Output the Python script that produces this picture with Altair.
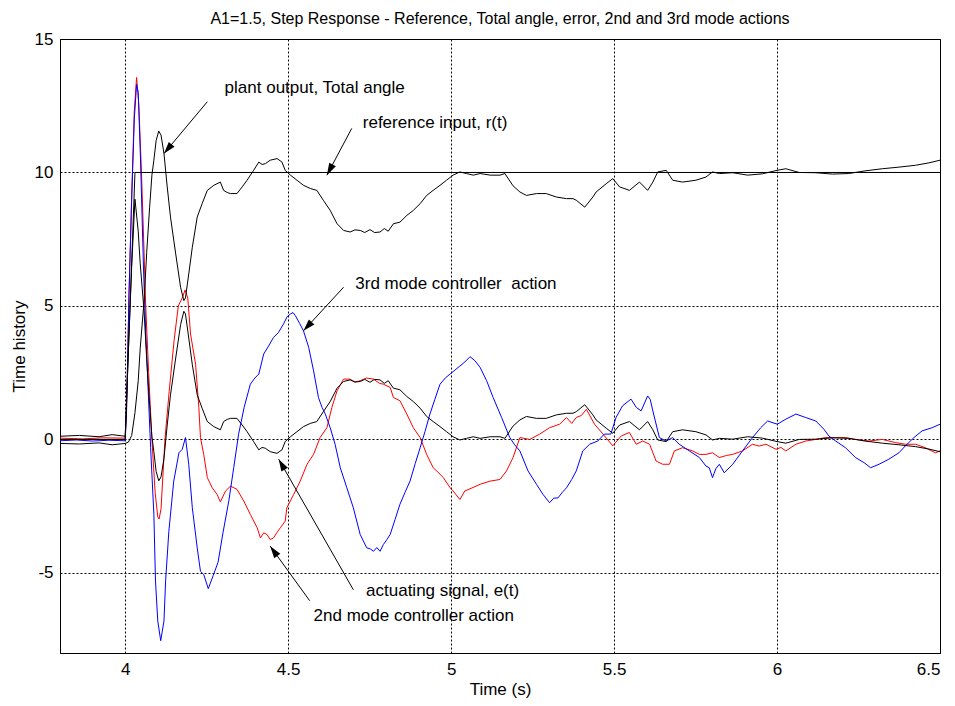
import math
import altair as alt
import pandas as pd

# ---------------- data ----------------
T_PLANT = [3.80, 3.86, 3.92, 3.96, 4.00, 4.01, 4.02, 4.03, 4.04, 4.046, 4.058, 4.066, 4.075, 4.082,
           4.088, 4.095, 4.103, 4.11, 4.119, 4.129, 4.139, 4.155, 4.17, 4.18, 4.185, 4.195, 4.206,
           4.221, 4.236, 4.252, 4.272, 4.292, 4.302, 4.313, 4.323, 4.343, 4.359, 4.374, 4.394, 4.41,
           4.42, 4.43, 4.445, 4.466, 4.481, 4.491, 4.507, 4.527, 4.547, 4.568, 4.588, 4.608, 4.629,
           4.65, 4.67, 4.69, 4.705, 4.721, 4.735, 4.751, 4.765, 4.782, 4.795, 4.807, 4.823, 4.843,
           4.864, 4.884, 4.905, 4.925, 4.945, 4.966, 4.986, 5.006, 5.027, 5.047, 5.068, 5.089, 5.12,
           5.15, 5.165, 5.19, 5.211, 5.231, 5.262, 5.292, 5.323, 5.354, 5.374, 5.384, 5.41, 5.435,
           5.445, 5.476, 5.496, 5.517, 5.547, 5.578, 5.603, 5.619, 5.634, 5.66, 5.68, 5.71, 5.751,
           5.782, 5.802, 5.823, 5.864, 5.91, 5.955, 6.00, 6.027, 6.068, 6.119, 6.17, 6.22, 6.27,
           6.323, 6.374, 6.425, 6.466, 6.50]
PLANT = [-0.15, -0.17, -0.13, -0.20, -0.15, -0.10, 0.15, 1.0, 2.2, 3.4, 5.2, 7.0, 8.7, 9.9,
         10.46, 11.2, 11.55, 11.4, 10.71, 9.46, 8.33, 6.95, 5.7, 5.2, 5.3, 6.2, 7.2,
         8.33, 8.83, 9.33, 9.52, 9.64, 9.33, 9.25, 9.21, 9.21, 9.46, 9.71, 10.08, 10.39,
         10.30, 10.33, 10.46, 10.52, 10.39, 10.08, 9.90, 9.71, 9.52, 9.40, 9.33, 8.96, 8.58,
         8.08, 7.83, 7.77, 7.85, 7.83, 7.75, 7.86, 7.75, 7.77, 7.90, 7.80, 8.08, 8.14,
         8.39, 8.58, 8.83, 9.14, 9.33, 9.52, 9.71, 9.90, 10.02, 9.96, 9.90, 9.96, 9.90,
         9.90, 9.96, 9.50, 9.27, 9.14, 9.21, 9.21, 9.08, 9.02, 9.02, 8.96, 8.70, 9.08,
         9.27, 9.58, 9.77, 9.46, 9.33, 9.64, 9.33, 9.64, 10.02, 10.08, 9.71, 9.64, 9.71,
         9.83, 10.02, 9.96, 9.99, 9.90, 9.95, 10.08, 10.14, 10.00, 9.99, 9.94, 9.96, 10.06,
         10.14, 10.20, 10.27, 10.36, 10.46]

T_ERR = T_PLANT
ERR = [0.12, 0.15, 0.10, 0.18, 0.12, 3.4, 6.5, 9.0, 7.8, 6.6, 4.8, 3.0, 1.3, 0.1,
       -0.46, -1.2, -1.55, -1.4, -0.71, 0.54, 1.67, 3.05, 4.3, 4.8, 4.7, 3.8, 2.8,
       1.67, 1.17, 0.67, 0.48, 0.36, 0.67, 0.75, 0.79, 0.79, 0.54, 0.29, -0.08, -0.39,
       -0.30, -0.33, -0.46, -0.52, -0.39, -0.08, 0.10, 0.29, 0.48, 0.60, 0.67, 1.04, 1.42,
       1.92, 2.17, 2.23, 2.15, 2.17, 2.25, 2.14, 2.25, 2.23, 2.10, 2.20, 1.92, 1.86,
       1.61, 1.42, 1.17, 0.86, 0.67, 0.48, 0.29, 0.10, -0.02, 0.04, 0.10, 0.04, 0.10,
       0.10, 0.04, 0.50, 0.73, 0.86, 0.79, 0.79, 0.92, 0.98, 0.98, 1.04, 1.30, 0.92,
       0.73, 0.42, 0.23, 0.54, 0.67, 0.36, 0.67, 0.36, -0.02, -0.08, 0.29, 0.36, 0.29,
       0.17, -0.02, 0.04, 0.01, 0.10, 0.05, -0.08, -0.14, 0.00, 0.01, 0.06, 0.04, -0.06,
       -0.14, -0.20, -0.27, -0.36, -0.46]

T_REF = [3.80, 4.00, 4.03, 6.50]
REF = [0, 0, 10, 10]

T_MODE2 = [3.80, 3.87, 3.93, 4.00, 4.004, 4.012, 4.02, 4.028, 4.035, 4.042, 4.05, 4.058, 4.063,
           4.072, 4.082, 4.092, 4.10, 4.104, 4.11, 4.122, 4.135, 4.15, 4.163, 4.175, 4.184, 4.192,
           4.2005, 4.216, 4.226, 4.231, 4.241, 4.252, 4.267, 4.282, 4.292, 4.308, 4.323, 4.343,
           4.364, 4.384, 4.405, 4.415, 4.425, 4.435, 4.445, 4.455, 4.465, 4.476, 4.491, 4.496,
           4.517, 4.537, 4.558, 4.578, 4.598, 4.619, 4.634, 4.65, 4.67, 4.69, 4.705, 4.721, 4.74,
           4.762, 4.78, 4.792, 4.813, 4.823, 4.843, 4.864, 4.884, 4.905, 4.925, 4.945, 4.966,
           4.976, 4.997, 5.006, 5.027, 5.042, 5.058, 5.089, 5.12, 5.15, 5.17, 5.19, 5.211, 5.241,
           5.272, 5.302, 5.333, 5.354, 5.37, 5.384, 5.40, 5.415, 5.44, 5.466, 5.496, 5.522,
           5.547, 5.568, 5.588, 5.609, 5.629, 5.649, 5.67, 5.685, 5.71, 5.741, 5.762, 5.782,
           5.802, 5.823, 5.845, 5.864, 5.894, 5.925, 5.945, 5.966, 5.997, 6.012, 6.027, 6.058,
           6.088, 6.119, 6.149, 6.18, 6.21, 6.241, 6.282, 6.323, 6.364, 6.394, 6.425, 6.455,
           6.486, 6.50]
MODE2 = [0.05, 0.02, 0.06, 0.05, 1.0, 5.5, 9.2, 12.3, 13.56, 12.5, 10.0, 7.0, 5.0,
         2.5, 0.0, -2.0, -2.9, -2.98, -2.6, 0.0, 1.8, 3.7, 5.0, 5.3, 5.6, 5.3,
         3.95, 2.82, 1.19, 0.07, -0.56, -1.43, -1.81, -2.06, -2.34, -1.93, -1.75, -1.87,
         -2.31, -2.81, -3.31, -3.69, -3.5, -3.56, -3.75, -3.69, -3.5, -3.31, -3.06, -2.56,
         -2.06, -1.56, -0.93, -0.56, 0.07, 0.44, 1.19, 1.82, 2.26, 2.26, 2.15, 2.2, 2.3,
         2.26, 2.1, 2.07, 1.95, 1.57, 1.45, 0.95, 0.44, 0.07, -0.56, -1.06, -1.3,
         -1.43, -1.81, -1.93, -2.25, -1.93, -1.85, -1.68, -1.56, -1.50, -1.18, -0.68, 0.07, 0.0,
         0.2, 0.44, 0.57, 0.82, 0.6, 0.82, 0.9, 1.13, 0.57, 0.2, -0.24, 0.13,
         0.26, -0.18, -0.06, -0.18, -0.81, -0.93, -0.93, -0.43, -0.31, -0.43, -0.56, -0.56,
         -0.5, -0.68, -0.6, -0.56, -0.43, -0.18, -0.25, -0.18, -0.37, -0.3, -0.43, -0.18,
         -0.06, 0.0, 0.07, 0.07, 0.07, 0.0, -0.06, 0.0, -0.12, -0.18, -0.18, -0.31,
         -0.5, -0.43]

T_MODE3 = [3.80, 3.85, 3.90, 3.95, 4.00, 4.004, 4.012, 4.02, 4.028, 4.035, 4.04, 4.047, 4.056,
           4.063, 4.07, 4.078, 4.088, 4.093, 4.10, 4.109, 4.119, 4.124, 4.134, 4.149, 4.165,
           4.175, 4.185, 4.195, 4.206, 4.221, 4.231, 4.241, 4.255, 4.27, 4.285, 4.30, 4.318,
           4.333, 4.348, 4.365, 4.384, 4.398, 4.41, 4.425, 4.44, 4.455, 4.47, 4.486, 4.497,
           4.507, 4.515, 4.522, 4.535, 4.547, 4.563, 4.578, 4.593, 4.604, 4.614, 4.629, 4.644,
           4.66, 4.68, 4.70, 4.721, 4.741, 4.752, 4.762, 4.772, 4.782, 4.792, 4.803, 4.813,
           4.828, 4.843, 4.858, 4.874, 4.89, 4.905, 4.92, 4.935, 4.95, 4.966, 4.982, 4.997,
           5.012, 5.027, 5.042, 5.058, 5.073, 5.089, 5.109, 5.129, 5.155, 5.18, 5.195, 5.211,
           5.236, 5.262, 5.282, 5.302, 5.315, 5.328, 5.34, 5.354, 5.37, 5.384, 5.404, 5.425,
           5.45, 5.47, 5.49, 5.506, 5.526, 5.552, 5.568, 5.583, 5.603, 5.611, 5.619, 5.639,
           5.66, 5.68, 5.70, 5.731, 5.762, 5.782, 5.792, 5.802, 5.812, 5.823, 5.838, 5.864,
           5.894, 5.925, 5.95, 5.971, 6.001, 6.027, 6.058, 6.088, 6.119, 6.144, 6.159, 6.18,
           6.21, 6.241, 6.267, 6.287, 6.313, 6.343, 6.374, 6.394, 6.42, 6.445, 6.476, 6.50]
MODE3 = [-0.05, -0.02, -0.06, -0.03, -0.05, 1.0, 5.6, 9.0, 12.0, 13.3, 13.0, 10.5, 6.5,
         4.0, 2.0, -0.3, -2.8, -5.3, -6.8, -7.54, -6.8, -5.3, -3.44, -1.56, -0.5,
         -0.37, 0.07, -0.93, -2.56, -4.06, -4.94, -5.06, -5.59, -5.1, -4.6, -3.5, -2.3,
         -1.06, 0.2, 1.2, 2.07, 2.3, 2.45, 3.2, 3.5, 3.82, 4.0, 4.33, 4.6,
         4.70, 4.75, 4.64, 4.35, 4.07, 3.45, 2.57, 1.57, 1.2, 0.95, 0.44, -0.18,
         -1.06, -1.81, -2.56, -3.56, -4.06, -4.1, -4.19, -4.05, -4.19, -3.94, -3.75, -3.56,
         -3.0, -2.43, -2.0, -1.56, -0.9, -0.31, 0.3, 0.95, 1.5, 2.07, 2.3, 2.45,
         2.6, 2.75, 2.9, 3.10, 2.95, 2.70, 2.20, 1.57, 0.82, 0.07, -0.2, -0.43,
         -1.18, -1.68, -2.06, -2.37, -2.2, -2.19, -2.0, -1.81, -1.5, -1.18, -0.43, -0.18,
         -0.06, 0.2, 0.2, 0.82, 1.26, 1.51, 1.2, 1.07, 1.63, 1.5, 1.07, 0.07,
         -0.06, 0.07, -0.18, -0.43, -0.68, -1.0, -1.06, -1.43, -1.1, -0.93, -1.25, -0.93,
         -0.43, 0.07, 0.44, 0.69, 0.57, 0.76, 0.95, 0.82, 0.69, 0.38, 0.13, -0.06,
         -0.31, -0.68, -0.87, -1.06, -0.93, -0.74, -0.5, -0.24, 0.07, 0.32, 0.44, 0.57]

X_TICKS = [4, 4.5, 5, 5.5, 6, 6.5]
Y_TICKS = [-5, 0, 5, 10, 15]

TITLE = "A1=1.5, Step Response - Reference, Total angle, error, 2nd and 3rd mode actions"
LABEL_TEXT = ["plant output, Total angle", "reference input, r(t)",
              "3rd mode controller\u00a0 action", "actuating signal, e(t)",
              "2nd mode controller action"]
LABEL_T = [4.305, 4.729, 4.706, 4.739, 4.578]
LABEL_V = [13.15, 11.87, 5.83, -5.66, -6.63]
ARROW_T0 = [4.252, 4.695, 4.670, 4.700, 4.566]
ARROW_V0 = [12.65, 11.65, 5.70, -5.63, -6.04]
ARROW_T1 = [4.119, 4.619, 4.547, 4.471, 4.445]
ARROW_V1 = [10.71, 9.90, 4.07, -0.74, -4.00]

# ---------------- chart ----------------
W, H = 880, 614
XDOM = [3.8, 6.5]
YDOM = [-8, 15]
FONT = "Liberation Sans"
FS = 17

xs = alt.Scale(domain=XDOM, nice=False, zero=False)
ys = alt.Scale(domain=YDOM, nice=False, zero=False)
x_axis = alt.Axis(values=X_TICKS, format="~g", title="Time (s)", grid=True,
                  labelPadding=8, titlePadding=4)
y_axis = alt.Axis(values=Y_TICKS, labelExpr="'' + datum.value", title="Time history",
                  grid=True, labelPadding=7, titlePadding=6)


def series_layer(ts, vs, color):
    df = pd.DataFrame({"t": ts, "v": vs})
    return alt.Chart(df).mark_line(color=color, strokeWidth=1, clip=True).encode(
        x=alt.X("t:Q", scale=xs, axis=x_axis),
        y=alt.Y("v:Q", scale=ys, axis=y_axis),
    )


lines = [
    series_layer(T_MODE2, MODE2, "#ff0000"),
    series_layer(T_MODE3, MODE3, "#0000ff"),
    series_layer(T_PLANT, PLANT, "#000000"),
    series_layer(T_ERR, ERR, "#000000"),
    series_layer(T_REF, REF, "#000000"),
]

lab_df = pd.DataFrame({"t": LABEL_T, "v": LABEL_V, "txt": LABEL_TEXT})
labels = alt.Chart(lab_df).mark_text(align="left", baseline="middle", font=FONT,
                                     fontSize=FS, color="black").encode(
    x=alt.X("t:Q", scale=xs), y=alt.Y("v:Q", scale=ys), text="txt:N")

PXX = W / (XDOM[1] - XDOM[0])
PXY = H / (YDOM[1] - YDOM[0])
angles = []
for a0, b0, a1, b1 in zip(ARROW_T0, ARROW_V0, ARROW_T1, ARROW_V1):
    dx = (a1 - a0) * PXX
    dy = -(b1 - b0) * PXY
    angles.append(math.degrees(math.atan2(dx, -dy)) % 360)

arr_df = pd.DataFrame({"t": ARROW_T0, "v": ARROW_V0, "t2": ARROW_T1, "v2": ARROW_V1,
                       "ang": angles})
shafts = alt.Chart(arr_df).mark_rule(color="black", strokeWidth=1).encode(
    x=alt.X("t:Q", scale=xs), y=alt.Y("v:Q", scale=ys), x2="t2:Q", y2="v2:Q")
HEAD = "M0,0L-0.75,2.4L0.75,2.4Z"
heads = alt.Chart(arr_df).mark_point(shape=HEAD, filled=True, color="black", size=100,
                                     opacity=1, strokeWidth=0).encode(
    x=alt.X("t2:Q", scale=xs), y=alt.Y("v2:Q", scale=ys),
    angle=alt.Angle("ang:Q", scale=None))

chart = alt.layer(*lines, shafts, heads, labels).properties(
    width=W, height=H,
    background="white",
    title=alt.TitleParams(TITLE, font=FONT, fontSize=16, fontWeight="normal",
                          color="black", anchor="middle", offset=3),
    autosize=alt.AutoSizeParams(type="none"),
    padding={"left": 52, "top": 31, "right": 7, "bottom": 52},
).configure_axis(
    gridColor="black", gridDash=[2, 2], gridOpacity=1, gridWidth=1,
    domainColor="black", domainWidth=1, ticks=False,
    labelFont=FONT, labelFontSize=FS, labelColor="black",
    titleFont=FONT, titleFontSize=FS, titleFontWeight="normal", titleColor="black",
).configure_view(stroke="black", strokeWidth=1)

chart.save("out.html", embed_options={"renderer": "svg", "actions": False})
